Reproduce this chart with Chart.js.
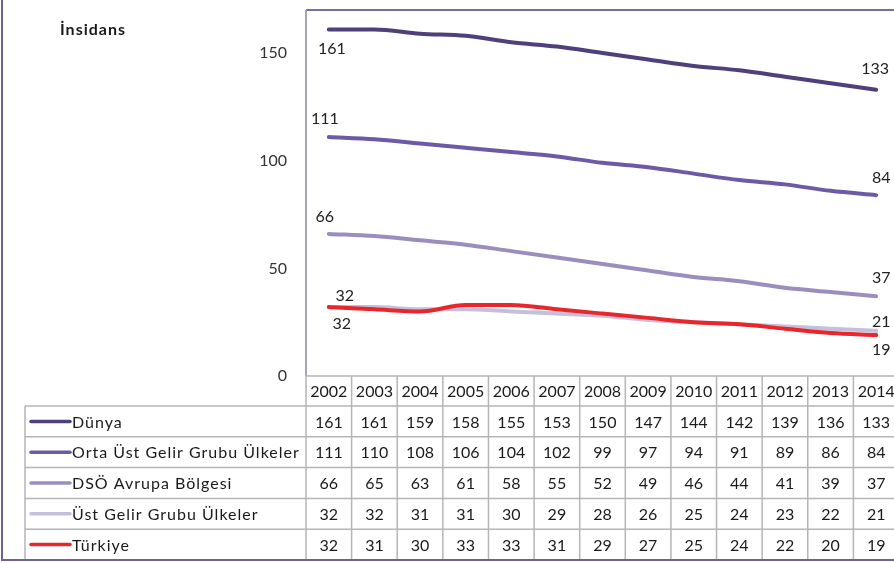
<!DOCTYPE html>
<html>
<head>
<meta charset="utf-8">
<script src="https://cdn.jsdelivr.net/npm/chart.js@4/dist/chart.umd.min.js"></script>
<style>
  html, body { margin: 0; padding: 0; background: #fff; overflow: hidden; }
  #wrap { position: relative; width: 905px; height: 563px; }
</style>
</head>
<body>
<div id="wrap"><canvas id="chart"></canvas></div>
<script>
const years = ['2002','2003','2004','2005','2006','2007','2008','2009','2010','2011','2012','2013','2014'];
const seriesNames = ['Dünya', 'Orta Üst Gelir Grubu Ülkeler', 'DSÖ Avrupa Bölgesi', 'Üst Gelir Grubu Ülkeler', 'Türkiye'];
const dunya     = [161, 161, 159, 158, 155, 153, 150, 147, 144, 142, 139, 136, 133];
const ortaUst   = [111, 110, 108, 106, 104, 102, 99, 97, 94, 91, 89, 86, 84];
const dsoAvrupa = [66, 65, 63, 61, 58, 55, 52, 49, 46, 44, 41, 39, 37];
const ustGelir  = [32, 32, 31, 31, 30, 29, 28, 26, 25, 24, 23, 22, 21];
const turkiye   = [32, 31, 30, 33, 33, 31, 29, 27, 25, 24, 22, 20, 19];
const yTicks = [0, 50, 100, 150];

const colors = ['#4f3f7a', '#6d59a6', '#9b8ebf', '#c6bfdc', '#e8262b'];
const FONT = 'Lato, "Open Sans", sans-serif';

// label offsets for first / last point [dx, dy]
const endLabels = [
  [[3, 19], [-1, -21]],
  [[-4, -18], [5, -17]],
  [[-4, -17], [5, -18]],
  [[16, -11], [5, -9]],
  [[13, 17], [5, 15]]
];

const allSeries = [dunya, ortaUst, dsoAvrupa, ustGelir, turkiye];

const decor = {
  id: 'decor',
  beforeDatasetsDraw(chart) {
    const ctx = chart.ctx;
    const a = chart.chartArea;
    ctx.save();
    // plot frame
    ctx.lineWidth = 2;
    ctx.strokeStyle = '#7a6ca2';
    ctx.beginPath(); ctx.moveTo(a.left, a.top); ctx.lineTo(chart.width, a.top); ctx.stroke();
    ctx.strokeStyle = '#a8a4b8';
    ctx.beginPath(); ctx.moveTo(a.left, a.top); ctx.lineTo(a.left, a.bottom); ctx.stroke();
    ctx.restore();
  },
  afterDatasetsDraw(chart) {
    const ctx = chart.ctx;
    const a = chart.chartArea;
    const xs = chart.scales.x;
    const n = years.length;
    const colW = xs.width / n;
    ctx.save();

    // end labels
    ctx.font = '16px ' + FONT;
    ctx.fillStyle = '#222';
    ctx.textAlign = 'center';
    ctx.textBaseline = 'middle';
    chart.data.datasets.forEach((ds, i) => {
      const meta = chart.getDatasetMeta(i);
      [0, n - 1].forEach((idx, k) => {
        const p = meta.data[idx];
        const off = endLabels[i][k];
        ctx.fillText(String(ds.data[idx]), p.x + off[0], p.y + off[1]);
      });
    });

    // data table
    const headTop = a.bottom;
    const headH = 30;
    const rowH = 30.8;
    const tableLeft = 25;
    const bottom = headTop + headH + rowH * seriesNames.length;
    ctx.strokeStyle = '#b5b5b5';
    ctx.lineWidth = 1.5;
    ctx.beginPath();
    ctx.moveTo(a.left, headTop); ctx.lineTo(chart.width, headTop);
    for (let r = 0; r < seriesNames.length; r++) {
      const y = headTop + headH + r * rowH;
      ctx.moveTo(tableLeft, y); ctx.lineTo(chart.width, y);
    }
    for (let c = 0; c <= n; c++) {
      const x = xs.left + c * colW;
      ctx.moveTo(x, headTop); ctx.lineTo(x, bottom);
    }
    ctx.moveTo(tableLeft, headTop + headH); ctx.lineTo(tableLeft, bottom);
    ctx.stroke();

    ctx.font = '16px ' + FONT;
    ctx.fillStyle = '#1a1a1a';
    ctx.textAlign = 'center';
    years.forEach((yr, c) => {
      ctx.fillText(yr, xs.getPixelForValue(c), headTop + headH / 2 + 1);
    });
    allSeries.forEach((vals, r) => {
      const cy = headTop + headH + r * rowH + rowH / 2 + 1;
      vals.forEach((v, c) => {
        ctx.fillText(String(v), xs.getPixelForValue(c), cy);
      });
      // legend key
      ctx.strokeStyle = colors[r];
      ctx.lineWidth = 3.5;
      ctx.lineCap = 'round';
      ctx.beginPath(); ctx.moveTo(31, cy - 1); ctx.lineTo(70, cy - 1); ctx.stroke();
      ctx.textAlign = 'left';
      ctx.letterSpacing = '1px';
      ctx.fillText(seriesNames[r], 72, cy);
      ctx.letterSpacing = '0px';
      ctx.textAlign = 'center';
    });

    // outer frame
    ctx.strokeStyle = '#6e6092';
    ctx.lineWidth = 2;
    ctx.lineCap = 'butt';
    ctx.beginPath();
    ctx.moveTo(2, 0); ctx.lineTo(2, 560); ctx.lineTo(chart.width, 560);
    ctx.stroke();

    // axis title
    ctx.font = 'bold 16px ' + FONT;
    ctx.fillStyle = '#1a1a1a';
    ctx.textAlign = 'left';
    ctx.letterSpacing = '1px';
    ctx.fillText('İnsidans', 60, 30);
    ctx.restore();
  }
};

new Chart(document.getElementById('chart'), {
  type: 'line',
  data: {
    labels: years,
    datasets: allSeries.map((vals, i) => ({
      label: seriesNames[i],
      data: vals,
      borderColor: colors[i],
      backgroundColor: colors[i],
      borderWidth: 4,
      pointRadius: 0,
      cubicInterpolationMode: 'monotone',
      borderCapStyle: 'round',
      order: allSeries.length - i
    }))
  },
  options: {
    responsive: true,
    maintainAspectRatio: false,
    animation: false,
    layout: { padding: { top: 10, right: 6, bottom: 187, left: 0 } },
    plugins: { legend: { display: false }, tooltip: { enabled: false } },
    scales: {
      x: {
        type: 'category',
        offset: true,
        grid: { display: false, drawTicks: false },
        border: { display: false },
        ticks: { display: false }
      },
      y: {
        min: 0,
        max: 170,
        afterBuildTicks(scale) { scale.ticks = yTicks.map(v => ({ value: v })); },
        afterFit(scale) {
          scale.width = 306;
          scale.paddingTop = 0;
          scale.paddingBottom = 0;
        },
        grid: { display: false, drawTicks: false },
        border: { display: false },
        ticks: { padding: 19, color: '#333', font: { family: FONT, size: 16 } }
      }
    }
  },
  plugins: [decor]
});
</script>
</body>
</html>
